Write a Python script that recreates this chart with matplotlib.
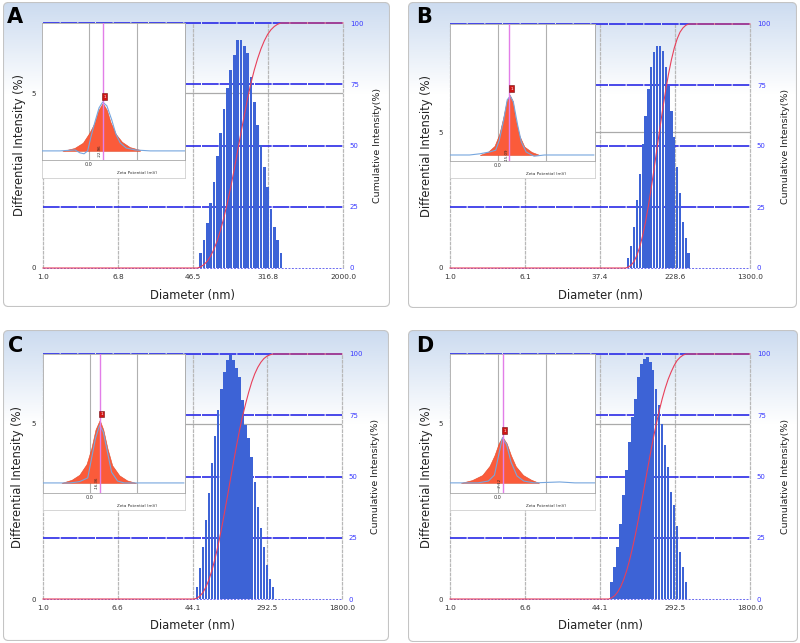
import numpy as np
import matplotlib.pyplot as plt
from matplotlib.patches import FancyBboxPatch
from matplotlib.ticker import NullLocator

W, H = 800, 643

# ---- data ----
letters = ["A", "B", "C", "D"]
x_max = [2000.0, 1300.0, 1800.0, 1800.0]
x_ticklabels = [["1.0", "6.8", "46.5", "316.8", "2000.0"],
                ["1.0", "6.1", "37.4", "228.6", "1300.0"],
                ["1.0", "6.6", "44.1", "292.5", "1800.0"],
                ["1.0", "6.6", "44.1", "292.5", "1800.0"]]
y_max = [7, 9, 7, 7]

# first / last bin centre (nm) of the size distribution
d_first = [54.4, 70.9, 47.5, 56.8]
d_last = [415.7, 300.0, 319.0, 363.8]

int_a = [0.44, 0.80, 1.30, 1.85, 2.47, 3.20, 3.87, 4.53, 5.13, 5.66, 6.09, 6.51, 6.51,
         6.34, 6.13, 5.47, 4.75, 4.09, 3.51, 2.90, 2.32, 1.68, 1.18, 0.80, 0.44]
int_b = [0.36, 0.82, 1.52, 2.50, 3.48, 4.58, 5.62, 6.60, 7.40, 7.95, 8.20, 8.20,
         8.00, 7.40, 6.73, 5.80, 4.83, 3.73, 2.75, 1.70, 1.09, 0.54]
int_c = [0.35, 0.88, 1.50, 2.26, 3.04, 3.88, 4.66, 5.40, 6.00, 6.50, 6.83, 6.97, 6.83,
         6.60, 6.35, 5.69, 4.97, 4.60, 4.07, 3.35, 2.64, 2.02, 1.50, 0.97, 0.56, 0.33]
int_d = [0.49, 0.91, 1.49, 2.15, 2.96, 3.68, 4.49, 5.20, 5.72, 6.34, 6.72, 6.87, 6.91,
         6.77, 6.53, 6.01, 5.53, 5.00, 4.39, 3.77, 3.06, 2.68, 2.10, 1.34, 0.91, 0.49]
intensities = [int_a, int_b, int_c, int_d]

# zeta potential insets (mV, relative intensity)
zfit_x = [[44, 24, 10, -1, -10, -16, -23, -30, -36, -45, -55, -68, -85],
          [29, 16, 5, -3, -10, -15, -20, -25, -29, -36, -44, -56, -69],
          [47, 30, 17, 5, -3, -10, -17, -23, -30, -38, -50, -63, -78],
          [60, 42, 25, 13, 5, -2, -8, -15, -22, -30, -42, -55, -68]]
zfit_y = [[0, 0.06, 0.17, 0.38, 0.60, 0.85, 1.0, 0.85, 0.60, 0.35, 0.19, 0.08, 0.02],
          [0, 0.05, 0.15, 0.35, 0.65, 0.90, 1.0, 0.90, 0.62, 0.32, 0.14, 0.05, 0],
          [0, 0.05, 0.13, 0.30, 0.55, 0.85, 1.0, 0.85, 0.55, 0.28, 0.12, 0.04, 0],
          [0, 0.06, 0.17, 0.37, 0.60, 0.86, 1.0, 0.86, 0.60, 0.36, 0.17, 0.07, 0]]
zraw_x = [[78, 48, 23, 15, 8, 2, -3, -10, -17, -23, -30, -38, -45, -52, -62, -77, -102, -160],
          [78, 46, 29, 13, 3, -3, -10, -16, -21, -26, -33, -39, -47, -60, -77, -158],
          [78, 33, 17, 3, -3, -10, -17, -23, -30, -37, -47, -58, -158],
          [82, 32, 15, 5, -2, -8, -15, -22, -32, -43, -60, -102, -127, -160]]
zraw_y = [[0, 0, 0.02, -0.04, -0.06, 0, 0.27, 0.60, 0.90, 1.02, 0.94, 0.65, 0.35, 0.17, 0.06, 0.02, 0, 0],
          [0, 0, 0.02, 0.05, 0.08, 0.25, 0.58, 0.92, 0.98, 0.88, 0.50, 0.22, 0.05, -0.02, 0, 0],
          [0, 0, 0.02, 0.08, 0.37, 0.71, 0.92, 0.81, 0.49, 0.17, 0.03, 0, 0],
          [0, 0, 0.04, 0.17, 0.61, 0.98, 0.83, 0.46, 0.15, 0.04, 0, 0.02, 0, 0]]
zeta_peak = [-23.0, -19.6, -16.7, -8.3]
zeta_label = ["-22.96", "-15.09", "-16.36", "-7.12"]
zeta_ylim = [(-0.19, 2.67), (-0.1, 2.18), (-0.16, 2.05), (-0.22, 2.8)]

# ---- layout in pixels (x0, y0, x1, y1), y from top ----
layout = [
    dict(frame=(3, 2, 390, 307), main=(43, 23, 343, 268), inset=(42, 23, 185, 160), box=178,
         letter=(7, 23), ylab=(20, 378, 295)),
    dict(frame=(408, 2, 797, 308), main=(450, 24, 750, 268), inset=(450, 24, 595, 161), box=178,
         letter=(416, 23), ylab=(427, 785, 295)),
    dict(frame=(3, 330, 389, 641), main=(43, 354, 342, 599), inset=(43, 354, 185, 493), box=510,
         letter=(8, 352), ylab=(18, 375, 625)),
    dict(frame=(408, 330, 798, 642), main=(450, 354, 750, 599), inset=(450, 354, 595, 493), box=510,
         letter=(416, 352), ylab=(427, 785, 625)),
]

bar_color = "#3d63d6"
grid_blue = "#2a2ae6"
tick_blue = "#3a3aff"


def rect(x0, y0, x1, y1):
    return [x0 / W, 1 - y1 / H, (x1 - x0) / W, (y1 - y0) / H]


def draw_frame(fig, fr):
    x0, y0, x1, y1 = fr
    w, h = x1 - x0, y1 - y0
    bg = fig.add_axes(rect(*fr), zorder=0)
    bg.set_xlim(0, w)
    bg.set_ylim(0, h)
    bg.axis("off")
    t = np.clip(np.linspace(0, 1, 200) / 0.3, 0, 1)[:, None, None]
    top = np.array([0.80, 0.86, 0.94])
    grad = top + (1 - top) * t
    grad = np.repeat(grad, 2, axis=1)
    im = bg.imshow(grad, extent=(0, w, 0, h), aspect="auto", origin="upper")
    box = FancyBboxPatch((0.5, 0.5), w - 1, h - 1, boxstyle="round,pad=0,rounding_size=5",
                         fc="none", ec="#c4c4c4", lw=0.8)
    bg.add_patch(box)
    im.set_clip_path(box)


def draw_main(fig, i, lay):
    xmax = x_max[i]
    ymax = y_max[i]
    h = np.array(intensities[i])
    n = len(h)
    centers = np.geomspace(d_first[i], d_last[i], n)
    r = (d_last[i] / d_first[i]) ** (1.0 / (n - 1))
    left = centers * r ** -0.4
    right = centers * r ** 0.4

    ax = fig.add_axes(rect(*lay["main"]), zorder=1)
    ax.patch.set_visible(False)
    ax.set_xscale("log")
    ax.set_xlim(1, xmax)
    ax.set_ylim(0, ymax)
    ticks = np.geomspace(1, xmax, 5)
    ax.set_xticks(ticks)
    ax.set_xticklabels(x_ticklabels[i])
    ax.xaxis.set_minor_locator(NullLocator())
    ax.set_yticks([0, 5])
    ax.tick_params(axis="x", length=0, labelsize=5.3, pad=4, labelcolor="#333333")
    ax.tick_params(axis="y", length=0, labelsize=5, pad=5, labelcolor="#333333")
    for s in ax.spines.values():
        s.set_visible(False)

    for t in ticks:
        ax.axvline(t, color="#b8b8b8", lw=0.9, ls=(0, (3, 0.7)), zorder=1, clip_on=False)
    ax.axhline(5, color="#aaaaaa", lw=0.9, zorder=1)
    for frac in [0.25, 0.5, 0.75, 1.0]:
        ax.axhline(ymax * frac, color=grid_blue, lw=1.2, ls=(0, (10, 0.6)), zorder=1, clip_on=False)
    ax.axhline(0, color="#6a6af0", lw=0.7, ls=(0, (2, 1.5)), zorder=1, clip_on=False)

    ax.bar(left, h, width=right - left, align="edge", color=bar_color, lw=0, zorder=2)

    ax2 = ax.twinx()
    ax2.set_zorder(2)
    ax2.set_ylim(0, 100)
    ax2.set_yticks([0, 25, 50, 75, 100])
    ax2.tick_params(axis="y", length=0, labelsize=5, pad=5, labelcolor=tick_blue)
    for s in ax2.spines.values():
        s.set_visible(False)

    # cumulative curve through the bin centres
    pct = np.cumsum(h) / h.sum() * 100
    cx = np.concatenate([[1, centers[0] * r ** -1], centers, [xmax]])
    cy = np.concatenate([[0, 0], pct, [100]])
    ax2.plot(cx, cy, color="#e8405a", lw=0.8, clip_on=False)

    xl, xr, xy = lay["ylab"]
    mid = (lay["main"][1] + lay["main"][3]) / 2
    xc = (lay["main"][0] + lay["main"][2]) / 2
    fig.text(xl / W, 1 - mid / H, "Differential Intensity (%)", rotation=90,
             ha="center", va="center", fontsize=8.3, color="#222222")
    fig.text(xr / W, 1 - mid / H, "Cumulative Intensity(%)", rotation=90,
             ha="center", va="center", fontsize=6.8, color="#222222")
    fig.text(xc / W, 1 - xy / H, "Diameter (nm)", ha="center", va="center",
             fontsize=8.3, color="#222222")


def draw_inset(fig, i, lay):
    x0, y0, x1, y1 = lay["inset"]
    box = fig.add_axes(rect(x0, y0, x1, lay["box"]), zorder=5)
    box.set_facecolor("white")
    box.set_xticks([])
    box.set_yticks([])
    for s in box.spines.values():
        s.set_color("#cfcfcf")
        s.set_linewidth(0.6)

    ins = fig.add_axes(rect(x0, y0, x1, y1), zorder=6)
    ins.set_facecolor("white")
    ins.fill_between(zfit_x[i], 0, zfit_y[i], color="#fb5b3a", lw=0.4, ec="#e04a2a", zorder=2)
    ins.plot(zraw_x[i], zraw_y[i], color="#76a6de", lw=0.8, zorder=3)
    ins.axvline(zeta_peak[i], color="#e27ee8", lw=1.0, zorder=4)
    ins.set_xlim(78, -160)
    ins.set_ylim(*zeta_ylim[i])
    ins.set_xticks([0, -80])
    ins.set_xticklabels(["0.0", ""])
    ins.set_yticks([])
    ins.tick_params(length=0, labelsize=3.5, pad=1.5, labelcolor="#333333")
    ins.grid(axis="x", color="#b0b0b0", lw=0.8, zorder=1)
    ins.set_axisbelow(True)
    for s in ins.spines.values():
        s.set_color("#a8a8a8")
        s.set_linewidth(0.6)

    top = max(zfit_y[i])
    ins.annotate("1", xy=(zeta_peak[i], top), xytext=(1.5, 4.5), textcoords="offset points",
                 fontsize=3, color="white", ha="center", va="center", zorder=6,
                 bbox=dict(boxstyle="square,pad=0.3", fc="#d01515", ec="#701010", lw=0.4))
    ins.annotate(zeta_label[i], xy=(zeta_peak[i], 0), xytext=(-0.4, 0), textcoords="offset points",
                 rotation=90, fontsize=2.8, ha="right", va="center", color="#222222", zorder=6)
    ins.text(0.665, -0.095, "Zeta Potential (mV)", transform=ins.transAxes, fontsize=3,
             ha="center", va="center", color="#333333")


fig = plt.figure(figsize=(W / 100, H / 100), dpi=100)
for i, lay in enumerate(layout):
    draw_frame(fig, lay["frame"])
    draw_main(fig, i, lay)
    draw_inset(fig, i, lay)
    lx, ly = lay["letter"]
    fig.text(lx / W, 1 - ly / H, letters[i], fontsize=15, fontweight="bold",
             ha="left", va="baseline", color="black", zorder=10)

fig.savefig("out.png", dpi=100)
